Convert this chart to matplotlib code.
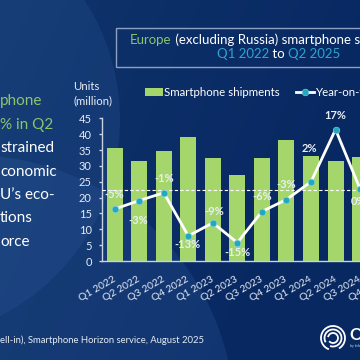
import numpy as np
import matplotlib
matplotlib.use("Agg")
import matplotlib.pyplot as plt
from matplotlib import patches
from matplotlib.transforms import ScaledTranslation

plt.rcParams['font.family'] = ['Lato', 'DejaVu Sans']

quarters = ['Q1 2022', 'Q2 2022', 'Q3 2022', 'Q4 2022', 'Q1 2023', 'Q2 2023',
            'Q3 2023', 'Q4 2023', 'Q1 2024', 'Q2 2024', 'Q3 2024', 'Q4 2024']
shipments = [35.7, 31.6, 34.6, 39.0, 32.5, 27.1, 32.5, 38.0, 33.2, 31.6, 32.7]
yoy = [-5.4, -3.0, -0.8, -13.0, -9.3, -14.9, -6.1, -2.7, 2.3, 17.1, 0.3]
yticks = [0, 5, 10, 15, 20, 25, 30, 35, 40, 45]

left_lines = ['phone', '% in Q2', 'strained', 'conomic', 'U\u2019s eco-', 'tions', 'orce']
source = 'ell-in), Smartphone Horizon service, August 2025'

# label offsets (pixels) for the percent labels
lab_dx = [0, -1.5, 0, -1, 1.5, 0, 0.5, 0, -2, 0, -2]
lab_dy = [15, -20, 14.6, -9, 11, -9.6, 14.6, 15, 33, 13.6, -13]

green = '#a5d66c'
teal = '#22a8c0'

fig = plt.figure(figsize=(3.6, 3.6), dpi=100)

# background
bg = fig.add_axes([0, 0, 1, 1], zorder=-1)
bg.set_xlim(0, 360)
bg.set_ylim(360, 0)
bg.axis('off')
gx, gy = np.meshgrid(np.linspace(0, 1, 200), np.linspace(0, 1, 200))
shade = np.clip(1 - (gx * 0.9 + gy * 0.4), 0, 1)
c_dark = np.array([8, 40, 98]) / 255
c_light = np.array([16, 52, 108]) / 255
img = c_dark + (c_light - c_dark) * shade[..., None]
bg.imshow(img, extent=(0, 360, 360, 0), aspect='auto')
bg.add_patch(patches.Circle((-100, 120), 220, fc='#3566a6', ec='none', alpha=0.2))
bg.add_patch(patches.Circle((-30, 420), 265, fc='#3566a6', ec='none', alpha=0.22))

# title box
bg.add_patch(patches.Rectangle((115.5, 28.3), 300, 38.4, fill=False, ec='#8d9fc2', lw=1))
t1 = bg.text(130, 44, 'Europe', color='#8cc46a', fontsize=9.5, va='baseline')
bg.annotate(' (excluding Russia) smartphone shipments', xy=(1, 0), xycoords=t1,
            va='bottom', color='white', fontsize=9.5)
t3 = bg.text(217, 58.3, 'Q1 2022', color='#2fa3cf', fontsize=9.5, va='baseline')
t4 = bg.annotate(' to ', xy=(1, 0), xycoords=t3, va='bottom', color='white', fontsize=9.5)
bg.annotate('Q2 2025', xy=(1, 0), xycoords=t4, va='bottom', color='#2fa3cf', fontsize=9.5)

# left text
for i, s in enumerate(left_lines):
    col = '#8cc46a' if i < 2 else 'white'
    bg.text(0, 105 + 23.5 * i, s, color=col, fontsize=11, va='baseline')

bg.text(73, 89.5, 'Units', color='#e6ecf4', fontsize=8.2, va='baseline')
bg.text(73, 104, '(million)', color='#e6ecf4', fontsize=8.2, va='baseline')

bg.text(0, 340.7, source, color='#e6ecf4', fontsize=6.8, va='center')

# logo
for r, a0, a1 in [(12, 110, 420), (8.5, 150, 470), (5, 190, 500)]:
    bg.add_patch(patches.Arc((333, 338), 2 * r, 2 * r, theta1=a0, theta2=a1, color='white', lw=1.3))
bg.text(349, 335, 'Omdia', color='white', fontsize=12, fontweight='bold', va='center')
bg.text(350, 346, 'by Informa Tech', color='#cfd8e6', fontsize=2.5, va='center')

# main chart
ax = fig.add_axes([101.7 / 360, 0.275, 0.82, 0.3964])
ax.set_facecolor('none')
x = np.arange(len(shipments))
bars = ax.bar(x, shipments, width=0.65, color=green, label='Smartphone shipments', zorder=2)
ax.set_xlim(-0.529, 11.5)
ax.set_ylim(0, 45)
ax.set_yticks(yticks)
ax.set_xticks(np.arange(len(quarters)))
ax.set_xticklabels(quarters, rotation=30, ha='right', va='center', rotation_mode='anchor',
                   fontsize=7.5, color='#e6ecf4')
for lbl in ax.get_xticklabels():
    lbl.set_transform(lbl.get_transform() + ScaledTranslation(4 / 100, 0, fig.dpi_scale_trans))
ax.tick_params(axis='x', length=0, pad=12.6)
ax.tick_params(axis='y', length=2.5, width=1, color='#c8d2e2', pad=4.7,
               labelsize=8, labelcolor='#e6ecf4', direction='out')
for sp in ['top', 'right']:
    ax.spines[sp].set_visible(False)
for sp in ['left', 'bottom']:
    ax.spines[sp].set_color('#c8d2e2')
    ax.spines[sp].set_linewidth(1)

ax2 = ax.twinx()
ax2.set_ylim(-20.09, 20.27)
ax2.axis('off')
ax2.axhline(0, color='white', lw=0.8, ls=(0, (3, 2)), zorder=3)
line, = ax2.plot(x, yoy, color='white', lw=2, marker='o', ms=4.8, mfc=teal,
                 mec='#8fd6e2', mew=0.4, label='Year-on-year growth', zorder=4)
for i, v in enumerate(yoy):
    ax2.annotate(f'{round(v)}%', (i, v), xytext=(lab_dx[i], lab_dy[i]), textcoords='offset pixels',
                 ha='center', va='center', fontsize=8, fontweight='bold', color='#e9eef4', zorder=5)

fig.legend(handles=[bars, line], loc='center left', bbox_to_anchor=(145 / 360, 1 - 92.7 / 360),
           ncol=2, frameon=False, fontsize=8.3, handlelength=1.56, handleheight=0.7,
           handletextpad=0.1, columnspacing=1.4, borderpad=0, borderaxespad=0,
           labelcolor='white')

fig.savefig('out.png', dpi=100)
